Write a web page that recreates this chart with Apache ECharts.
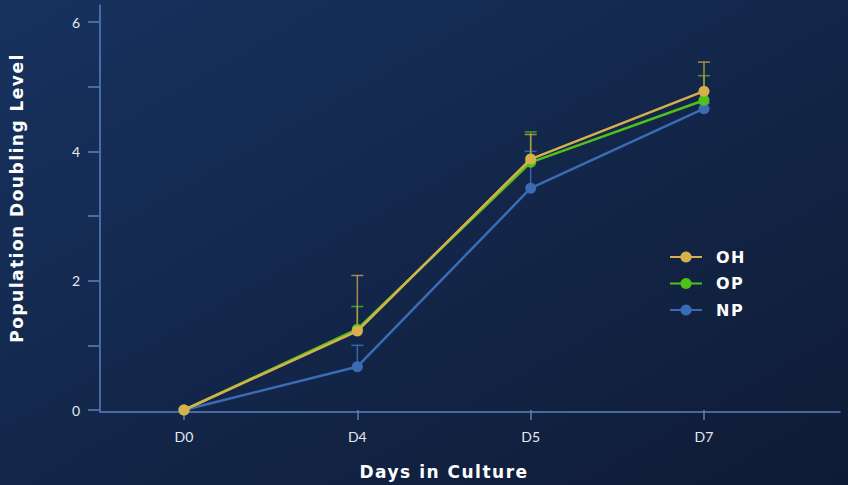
<!DOCTYPE html>
<html><head><meta charset="utf-8">
<script src="https://cdn.jsdelivr.net/npm/echarts@6/dist/echarts.min.js"></script>
<style>
html,body{margin:0;padding:0;background:#13284d}
#c{width:848px;height:485px}
#c text[style*="bold"], #c text[font-weight="bold"]{letter-spacing:1.5px}
</style>
</head><body><div id="c"></div>
<script>
const categories = ['D0', 'D4', 'D5', 'D7'];
const ohValues = [0, 1.22, 3.88, 4.93];
const ohUpper  = [0, 2.08, 4.26, 5.38];
const opValues = [0, 1.25, 3.83, 4.79];
const opUpper  = [0, 1.60, 4.30, 5.17];
const npValues = [0, 0.67, 3.43, 4.66];
const npUpper  = [0, 1.00, 4.00, 4.74];
const seriesNames = ['OH', 'OP', 'NP'];
const yTickLabels = [0, 2, 4, 6];

const COLORS = { OH: '#d6b04c', OP: '#4fc21a', NP: '#3a6cb6' };
const ERR_COLORS = { OH: 'rgba(190,160,75,0.85)', OP: 'rgba(70,170,30,0.9)', NP: 'rgba(58,108,182,0.9)' };
const AXIS = '#5b80c2';
const LABEL = '#e3e8f0';

function errData(vals, ups) {
  return vals.map((v, i) => [i, v, ups[i]]);
}
function errSeries(name, vals, ups) {
  return {
    type: 'custom', name: name + ' error', xAxisIndex: 1, yAxisIndex: 1, z: 1,
    silent: true,
    data: errData(vals, ups),
    renderItem: function (params, api) {
      const x = api.value(0), v = api.value(1), u = api.value(2);
      if (u <= v) return null;
      const p0 = api.coord([x, v]);
      const p1 = api.coord([x, u]);
      const w = 6;
      const st = { stroke: ERR_COLORS[name], lineWidth: 1.5 };
      return { type: 'group', children: [
        { type: 'line', shape: { x1: p0[0], y1: p0[1], x2: p1[0], y2: p1[1] }, style: st },
        { type: 'line', shape: { x1: p1[0] - w, y1: p1[1], x2: p1[0] + w, y2: p1[1] }, style: st }
      ]};
    }
  };
}
function lineSeries(name, vals, z) {
  return {
    type: 'line', name: name, xAxisIndex: 1, yAxisIndex: 1, z: z,
    data: vals, symbol: 'circle', symbolSize: 11,
    lineStyle: { color: COLORS[name], width: 2.5 },
    itemStyle: { color: COLORS[name] }
  };
}

const chart = echarts.init(document.getElementById('c'), null, { renderer: 'svg' });
chart.setOption({
  animation: false,
  backgroundColor: new echarts.graphic.LinearGradient(0, 0, 1, 1, [
    { offset: 0, color: '#17325f' }, { offset: 1, color: '#0f1b35' }
  ]),
  grid: [
    { left: 99, right: 8, top: 5, bottom: 73 },
    { left: 184, right: 144, top: 22, bottom: 73 }
  ],
  legend: {
    data: seriesNames, orient: 'vertical', left: 664, top: 244,
    itemWidth: 32, itemHeight: 14, itemGap: 10.5,
    textStyle: { color: '#ffffff', fontSize: 16, fontWeight: 'bold', fontFamily: 'DejaVu Sans', padding: [0, 0, 0, 9] }
  },
  xAxis: [
    { type: 'value', gridIndex: 0, min: 0, max: 1, axisLine: { show: true, lineStyle: { color: AXIS, width: 1.5 } },
      axisTick: { show: false }, axisLabel: { show: false }, splitLine: { show: false } },
    { type: 'category', gridIndex: 1, data: categories, boundaryGap: false,
      axisLine: { show: false }, axisTick: { show: true, length: 10, lineStyle: { color: AXIS, width: 1.5 } },
      axisLabel: { color: LABEL, fontSize: 14, fontFamily: 'Lato', margin: 19 },
      splitLine: { show: false },
      name: 'Days in Culture', nameLocation: 'middle', nameGap: 53,
      nameTextStyle: { color: '#ffffff', fontSize: 17, fontWeight: 'bold', fontFamily: 'DejaVu Sans' } }
  ],
  yAxis: [
    { type: 'value', gridIndex: 0, min: 0, max: 1, axisLine: { show: true, lineStyle: { color: AXIS, width: 1.5 } },
      axisTick: { show: false }, axisLabel: { show: false }, splitLine: { show: false },
      name: 'Population Doubling Level', nameLocation: 'middle', nameGap: 75,
      nameTextStyle: { color: '#ffffff', fontSize: 17, fontWeight: 'bold', fontFamily: 'DejaVu Sans', padding: [0, 0, 0, 21] } },
    { type: 'value', gridIndex: 1, min: 0, max: 6, interval: 1, offset: 85,
      axisLine: { show: false }, axisTick: { show: true, length: 11, lineStyle: { color: AXIS, width: 1.5 } },
      axisLabel: { color: LABEL, fontSize: 14, fontFamily: 'Lato', margin: 19,
        formatter: v => (yTickLabels.indexOf(v) >= 0 ? String(v) : '') },
      splitLine: { show: false } }
  ],
  series: [
    errSeries('NP', npValues, npUpper),
    errSeries('OP', opValues, opUpper),
    errSeries('OH', ohValues, ohUpper),
    lineSeries('NP', npValues, 2),
    lineSeries('OP', opValues, 3),
    lineSeries('OH', ohValues, 4)
  ]
});
</script></body></html>
